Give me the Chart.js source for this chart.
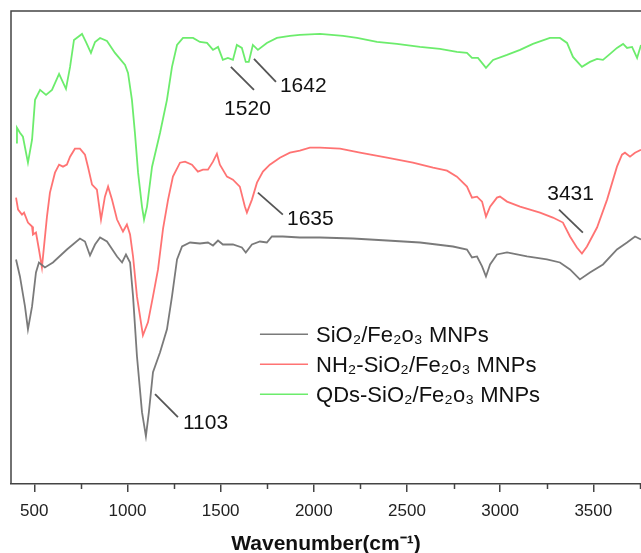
<!DOCTYPE html>
<html>
<head>
<meta charset="utf-8">
<script src="https://cdn.jsdelivr.net/npm/chart.js@4/dist/chart.umd.min.js"></script>
<style>
html,body{margin:0;padding:0;background:#fff;}
#wrap{width:641px;height:553px;}
</style>
</head>
<body>
<div id="wrap"><canvas id="c" width="641" height="553"></canvas></div>
<script>
// ---- Data (wavenumber in cm-1, signal in arbitrary transmittance units, offset per trace) ----
const seriesLabels = ['SiO\u2082/Fe\u2082o\u2083 MNPs', 'NH\u2082-SiO\u2082/Fe\u2082o\u2083 MNPs', 'QDs-SiO\u2082/Fe\u2082o\u2083 MNPs'];

const sioWavenumber = [402,423,450,466,488,509,525,557,600,675,745,772,799,826,853,890,944,971,992,1014,1030,1051,1078,1099,1115,1137,1175,1212,1239,1266,1293,1336,1389,1432,1459,1486,1512,1566,1614,1635,1668,1711,1748,1775,1834,1925,2033,2210,2393,2570,2747,2822,2849,2876,2903,2924,2946,2983,3037,3144,3251,3321,3375,3428,3482,3552,3627,3681,3724,3756];
const sioSignal = [225,208,178,155,178,212,222,217,222,235,246,243,229,240,247,243,228,222,230,222,188,128,72,48,72,112,132,155,188,225,238,242,241,242,239,244,240,240,237,232,240,243,242,248,248,247,247,246,244,242,238,235,227,228,218,208,220,230,232,228,225,222,215,205,212,220,235,242,248,245];

const nh2Wavenumber = [402,413,434,445,466,488,493,509,525,541,568,584,611,633,654,675,692,718,745,772,788,810,836,858,879,896,917,944,976,997,1014,1030,1051,1083,1110,1137,1164,1191,1218,1244,1282,1309,1346,1378,1405,1432,1459,1480,1496,1534,1566,1603,1630,1641,1668,1695,1727,1764,1818,1872,1925,1979,2033,2141,2248,2393,2532,2640,2715,2768,2822,2849,2876,2903,2924,2946,2983,2999,3037,3107,3214,3283,3337,3375,3412,3439,3466,3520,3574,3627,3654,3670,3697,3724,3756];
const nh2Signal = [287,275,270,272,262,258,250,252,235,217,268,292,312,320,318,320,328,336,336,330,318,300,295,265,288,298,285,265,253,260,250,228,188,149,162,188,215,256,285,308,322,323,320,313,315,315,323,331,320,308,305,298,278,272,285,302,313,320,327,332,334,337,337,336,332,327,322,317,314,308,298,287,288,283,268,278,287,288,283,278,272,267,262,248,237,231,238,257,285,318,330,332,328,332,335];

const qdsWavenumber = [402,407,423,439,466,488,504,531,563,595,633,670,692,713,756,777,804,826,853,890,933,987,1003,1024,1040,1057,1078,1089,1105,1132,1175,1212,1239,1266,1298,1352,1389,1427,1459,1486,1512,1539,1566,1587,1614,1635,1651,1673,1700,1748,1802,1872,1925,2033,2157,2232,2339,2446,2570,2677,2768,2822,2849,2881,2924,2962,3037,3107,3176,3267,3321,3359,3391,3439,3482,3520,3552,3590,3627,3660,3681,3708,3735,3756];
const qdsSignal = [342,357,352,348,322,345,385,395,390,395,411,396,418,445,451,443,432,443,447,444,432,420,412,385,352,312,278,265,278,318,352,385,418,440,447,447,443,442,435,438,425,427,425,440,437,423,423,440,435,442,447,449,450,451,449,447,443,441,438,436,433,432,427,427,417,425,430,435,441,447,447,442,428,418,423,426,425,431,437,441,437,438,427,440];

const tickValues = [500,1000,1500,2000,2500,3000,3500];
const minorTickValues = [750,1250,1750,2250,2750,3250,3750];

// peak annotations: label text, leader line start/end (wavenumber, signal), text anchor
const peakLabels = ['1103','1520','1642','1635','3431'];
const peakLineStartX = [1148,1555,1679,1700,3316];
const peakLineStartY = [90,418,426,292,275];
const peakLineEndX = [1271,1679,1797,1834,3444];
const peakLineEndY = [67,395,403,270,252];
const peakTextX = [1298,1644,1818,1856,3378];
const peakTextY = [55,370,393,260,285];
const peakTextAlign = ['left','center','left','left','center'];

// ---- Build chart ----
const colors = ['rgba(115,115,115,0.95)','rgba(255,100,100,0.9)','rgba(100,235,100,0.95)'];
const xs = [sioWavenumber, nh2Wavenumber, qdsWavenumber];
const ys = [sioSignal, nh2Signal, qdsSignal];
const datasets = seriesLabels.map((lab,i)=>({
  label: lab,
  data: xs[i].map((x,j)=>({x:x, y:ys[i][j]})),
  borderColor: colors[i],
  borderWidth: 1.8,
  pointRadius: 0,
  tension: 0,
  fill: false
}));

const FONT = '"Liberation Sans", Arial, sans-serif';

const overlay = {
  id: 'overlay',
  afterDraw(chart){
    const ctx = chart.ctx, a = chart.chartArea, x = chart.scales.x, y = chart.scales.y;
    ctx.save();
    // frame (left + top)
    ctx.strokeStyle = '#444'; ctx.lineWidth = 1.5;
    ctx.beginPath();
    ctx.moveTo(a.left, a.bottom); ctx.lineTo(a.left, a.top); ctx.lineTo(a.right + 2, a.top);
    ctx.stroke();
    // minor ticks
    ctx.beginPath();
    minorTickValues.forEach(v=>{
      const px = Math.round(x.getPixelForValue(v)) + 0.5;
      ctx.moveTo(px, a.bottom); ctx.lineTo(px, a.bottom + 5);
    });
    ctx.stroke();
    // peak annotations
    ctx.strokeStyle = '#555'; ctx.lineWidth = 1.8;
    ctx.fillStyle = '#111';
    ctx.font = '21px ' + FONT;
    ctx.textBaseline = 'alphabetic';
    peakLabels.forEach((t,i)=>{
      ctx.beginPath();
      ctx.moveTo(x.getPixelForValue(peakLineStartX[i]), y.getPixelForValue(peakLineStartY[i]));
      ctx.lineTo(x.getPixelForValue(peakLineEndX[i]), y.getPixelForValue(peakLineEndY[i]));
      ctx.stroke();
      ctx.textAlign = peakTextAlign[i];
      ctx.fillText(t, x.getPixelForValue(peakTextX[i]), y.getPixelForValue(peakTextY[i]));
    });
    // legend
    const lx0 = x.getPixelForValue(1711), lx1 = x.getPixelForValue(1969), tx = x.getPixelForValue(2012);
    const rowY = [150,120,90];
    ctx.font = '22px ' + FONT;
    ctx.textAlign = 'left';
    chart.data.datasets.forEach((ds,i)=>{
      const py = y.getPixelForValue(rowY[i]);
      ctx.strokeStyle = ds.borderColor; ctx.lineWidth = 1.6;
      ctx.beginPath(); ctx.moveTo(lx0, py); ctx.lineTo(lx1, py); ctx.stroke();
      ctx.fillStyle = '#111';
      ctx.fillText(ds.label, tx, py + 8);
    });
    ctx.restore();
  }
};

new Chart(document.getElementById('c'), {
  type: 'line',
  data: { datasets: datasets },
  options: {
    responsive: false,
    animation: false,
    layout: { padding: { left: 11, top: 11, right: 0, bottom: 0 } },
    plugins: { legend: { display: false }, tooltip: { enabled: false } },
    scales: {
      x: {
        type: 'linear',
        min: 375, max: 3756,
        afterBuildTicks: s => { s.ticks = tickValues.map(v=>({value:v})); },
        ticks: { color: '#222', font: { family: FONT, size: 17 }, padding: 9, maxRotation: 0, autoSkip: false, callback: v => String(v) },
        grid: { drawOnChartArea: false, drawTicks: true, tickLength: 8, color: '#444', lineWidth: 1.5 },
        border: { display: true, color: '#444', width: 1.5 },
        title: { display: true, text: 'Wavenumber(cm\u207B\u00B9)', color: '#111', font: { family: FONT, size: 21, weight: 'bold', lineHeight: 0.8 }, padding: { top: 5.8, bottom: 0 } }
      },
      y: { display: false, min: 0, max: 474 }
    }
  },
  plugins: [overlay]
});
</script>
</body>
</html>
